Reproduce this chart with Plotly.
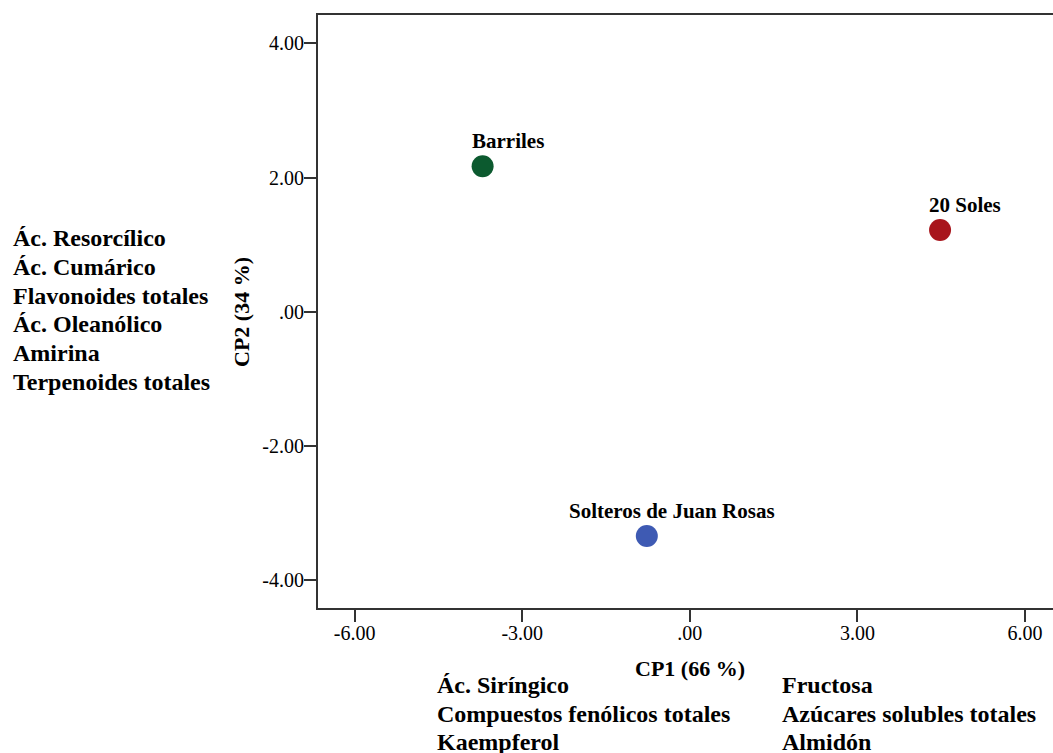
import plotly.graph_objects as go

cultivares = ["Barriles", "20 Soles", "Solteros de Juan Rosas"]
cp1 = [-3.71, 4.48, -0.77]
cp2 = [2.17, 1.22, -3.34]
colores = ["#0c5a2f", "#a8151c", "#3e5ab3"]

x_ticks = [-6, -3, 0, 3, 6]
x_labels = ["-6.00", "-3.00", ".00", "3.00", "6.00"]
y_ticks = [-4, -2, 0, 2, 4]
y_labels = ["-4.00", "-2.00", ".00", "2.00", "4.00"]

var_izq = ["Ác. Resorcílico", "Ác. Cumárico", "Flavonoides totales",
           "Ác. Oleanólico", "Amirina", "Terpenoides totales"]
var_abajo_izq = ["Ác. Siríngico", "Compuestos fenólicos totales", "Kaempferol"]
var_abajo_der = ["Fructosa", "Azúcares solubles totales", "Almidón"]

FONT = "Liberation Serif"
W, H = 1053, 753
L, T, B = 318, 15, 145
pw, ph = W - L, H - T - B


def px(xp):
    return (xp - L) / pw


def py(yp):
    return (H - B - yp) / ph


fig = go.Figure()
fig.add_trace(go.Scatter(
    x=cp1, y=cp2, mode="markers",
    marker=dict(size=22, color=colores),
    showlegend=False, hoverinfo="skip",
))

for name, xv, yv in zip(cultivares, cp1, cp2):
    fig.add_annotation(x=xv, y=yv, text=f"<b>{name}</b>", showarrow=False,
                       xshift=25, yshift=25,
                       font=dict(family=FONT, size=21, color="black"))


def block(lines, x0, y0, step=28.8):
    for i, l in enumerate(lines):
        fig.add_annotation(xref="paper", yref="paper", x=px(x0), y=py(y0 + i * step),
                           text=f"<b>{l}</b>", showarrow=False,
                           xanchor="left", yanchor="middle",
                           font=dict(family=FONT, size=24, color="black"))


block(var_izq, 11, 238)
block(var_abajo_izq, 435, 685, 28.7)
block(var_abajo_der, 780, 685, 28.7)

# axis titles
fig.add_annotation(xref="paper", yref="paper", x=px(690), y=py(668),
                   text="<b>CP1 (66 %)</b>", showarrow=False,
                   xanchor="center", yanchor="middle",
                   font=dict(family=FONT, size=22, color="black"))
fig.add_annotation(xref="paper", yref="paper", x=px(241), y=py(312),
                   text="<b>CP2 (34 %)</b>", showarrow=False, textangle=-90,
                   xanchor="center", yanchor="middle",
                   font=dict(family=FONT, size=22, color="black"))

fig.update_layout(
    width=W, height=H,
    margin=dict(l=L, r=0, t=T, b=B),
    paper_bgcolor="white", plot_bgcolor="white",
    font=dict(family=FONT, color="black"),
    xaxis=dict(range=[-6.657, 6.502], tickvals=x_ticks, ticktext=x_labels,
               showgrid=False, zeroline=False, showline=True, linecolor="#333",
               linewidth=2, mirror=True, ticks="outside", ticklen=12, tickwidth=2,
               tickcolor="#333", ticklabelstandoff=-6,
               tickfont=dict(family=FONT, size=20, color="black")),
    yaxis=dict(range=[-4.413, 4.423], tickvals=y_ticks, ticktext=y_labels,
               showgrid=False, zeroline=False, showline=True, linecolor="#333",
               linewidth=2, ticks="outside", ticklen=12, tickwidth=2,
               tickcolor="#333", ticklabelstandoff=-4,
               tickfont=dict(family=FONT, size=20, color="black")),
)

fig.write_html(
    "out.html",
    config={"displayModeBar": False},
    post_script="document.body.style.margin='0';document.body.style.overflow='hidden';"
                "document.documentElement.style.overflow='hidden';",
)
